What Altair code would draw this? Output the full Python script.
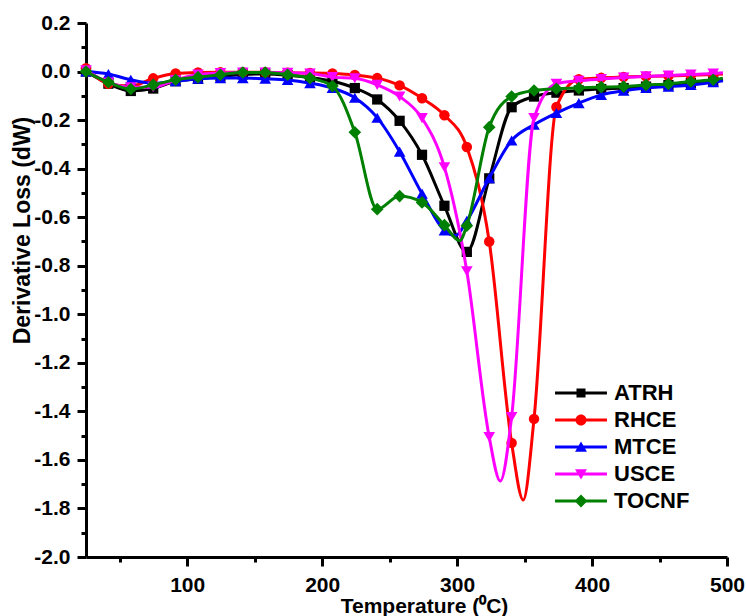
import altair as alt
import pandas as pd

# ---------------- data ----------------
names = ["ATRH", "RHCE", "MTCE", "USCE", "TOCNF"]
colors = ["#000000", "#FF0000", "#0000FF", "#FF00FF", "#008000"]
shapes = ["square", "circle", "triangle-up", "triangle-down", "diamond"]
msizes = [105, 110, 135, 135, 160]

temps = [25.0, 41.6, 58.2, 74.8, 91.4, 108.0, 124.6, 141.2, 157.8, 174.4,
         191.0, 207.6, 224.2, 240.8, 257.4, 274.0, 290.6, 307.2, 323.8, 340.4,
         357.0, 373.6, 390.2, 406.8, 423.4, 440.0, 456.6, 473.2, 489.8]

atrh = [0.0, -0.05, -0.08, -0.07, -0.04, -0.03, -0.02, -0.012, -0.01, -0.015,
        -0.025, -0.04, -0.068, -0.115, -0.203, -0.343, -0.553, -0.743, -0.44, -0.147,
        -0.103, -0.087, -0.078, -0.072, -0.068, -0.062, -0.056, -0.047, -0.04]
rhce = [0.014, -0.05, -0.06, -0.028, -0.008, -0.004, -0.003, -0.003, -0.003, -0.005,
        -0.006, -0.008, -0.014, -0.027, -0.057, -0.11, -0.18, -0.311, -0.70, -1.53,
        -1.431, -0.146, -0.032, -0.026, -0.022, -0.02, -0.018, -0.015, -0.012]
mtce = [0.0, -0.01, -0.034, -0.048, -0.04, -0.03, -0.027, -0.027, -0.03, -0.035,
        -0.048, -0.068, -0.108, -0.19, -0.33, -0.503, -0.655, -0.615, -0.439, -0.284,
        -0.219, -0.171, -0.13, -0.096, -0.079, -0.068, -0.062, -0.055, -0.044]
usce = [0.005, -0.045, -0.065, -0.065, -0.035, -0.012, -0.006, -0.004, -0.004, -0.005,
        -0.008, -0.023, -0.028, -0.055, -0.103, -0.192, -0.394, -0.823, -1.506, -1.423,
        -0.192, -0.05, -0.038, -0.031, -0.025, -0.02, -0.016, -0.012, -0.008]
tocnf = [0.0, -0.044, -0.072, -0.055, -0.034, -0.023, -0.013, -0.004, -0.004, -0.013,
         -0.027, -0.06, -0.25, -0.567, -0.513, -0.539, -0.633, -0.635, -0.229, -0.103,
         -0.078, -0.071, -0.068, -0.064, -0.062, -0.055, -0.051, -0.041, -0.034]

# curve points between symbols (peaks / line end)
atrh_xt, atrh_xv = [497.0], [-0.033]
rhce_xt, rhce_xv = [349.0, 497.0], [-1.765, -0.01]
mtce_xt, mtce_xv = [299.0, 497.0], [-0.675, -0.038]
usce_xt, usce_xv = [332.0, 497.0], [-1.687, -0.005]
tocnf_xt, tocnf_xv = [302.0, 497.0], [-0.697, -0.027]

x_ticks = [50, 100, 150, 200, 250, 300, 350, 400, 450, 500]
y_ticks = [-2.0, -1.9, -1.8, -1.7, -1.6, -1.5, -1.4, -1.3, -1.2, -1.1, -1.0,
           -0.9, -0.8, -0.7, -0.6, -0.5, -0.4, -0.3, -0.2, -0.1, 0.0, 0.1, 0.2]

series_vals = [atrh, rhce, mtce, usce, tocnf]
series_extra = [(atrh_xt, atrh_xv), (rhce_xt, rhce_xv), (mtce_xt, mtce_xv),
                (usce_xt, usce_xv), (tocnf_xt, tocnf_xv)]

rows = []
for name, vals, (et, ev) in zip(names, series_vals, series_extra):
    for t, v in zip(temps, vals):
        rows.append({"series": name, "T": t, "v": v, "marker": True})
    for t, v in zip(et, ev):
        rows.append({"series": name, "T": t, "v": v, "marker": False})
df = pd.DataFrame(rows)

# ---------------- styling ----------------
FONT = "Liberation Sans"

x_enc = alt.X(
    "T:Q",
    scale=alt.Scale(domain=[25, 500], nice=False, zero=False),
    axis=alt.Axis(
        values=x_ticks,
        labelExpr="datum.value % 100 === 0 ? datum.label : ''",
        title="Temperature (\u2070C)",
        titleFont=FONT, titleFontSize=21, titleFontWeight="bold", titleColor="black",
        titleX=338, titleY=55, titleAlign="center", titleBaseline="alphabetic",
        labelFont=FONT, labelFontSize=21, labelFontWeight="bold", labelColor="black",
        labelPadding=8, labelFlush=False, labelOverlap=False,
        tickSize={"condition": {"test": "datum.value % 100 === 0", "value": 9}, "value": 5},
        tickWidth=3, tickColor="black",
        domainColor="black", domainWidth=3, grid=False,
    ),
)

y_enc = alt.Y(
    "v:Q",
    scale=alt.Scale(domain=[-2.0, 0.2], nice=False, zero=False),
    axis=alt.Axis(
        values=y_ticks,
        labelExpr="abs(round(datum.value*10)) % 2 === 0 ? (datum.value < -0.001 ? '-' : '') + format(abs(datum.value), '.1f') : ''",
        title="Derivative Loss (dW)",
        titleFont=FONT, titleFontSize=23, titleFontWeight="bold", titleColor="black",
        titleX=-64, titleY=207, titleAngle=270, titleAlign="center", titleBaseline="middle",
        labelFont=FONT, labelFontSize=21, labelFontWeight="bold", labelColor="black",
        labelPadding=7, labelOverlap=False,
        tickSize={"condition": {"test": "abs(round(datum.value*10)) % 2 === 0", "value": 9}, "value": 5},
        tickWidth=3, tickColor="black",
        domainColor="black", domainWidth=3, grid=False,
    ),
)

base = alt.Chart(df)

layers = []
for name, col, shp, ms in zip(names, colors, shapes, msizes):
    line = base.transform_filter(alt.datum.series == name).mark_line(
        color=col, strokeWidth=3, interpolate="monotone"
    ).encode(x=x_enc, y=y_enc)
    pts = base.transform_filter(
        (alt.datum.series == name) & (alt.datum.marker == True)
    ).mark_point(shape=shp, filled=True, size=ms, color=col, opacity=1).encode(x=x_enc, y=y_enc)
    layers += [line, pts]

# legend symbols: line with the marker in the middle
# (symbol size 484 -> path unit = 11 px; line spans 52 px)
bar = "M-2.36,-0.136H2.36V0.136H-2.36Z "
legend_paths = [
    bar + "M-0.41,-0.41H0.41V0.41H-0.41Z",
    bar + "M0.5,0A0.5,0.5 0 1,1 -0.5,0A0.5,0.5 0 1,1 0.5,0Z",
    bar + "M0,-0.5L0.54,0.43L-0.54,0.43Z",
    bar + "M-0.54,-0.43L0.54,-0.43L0,0.5Z",
    bar + "M0,-0.59L0.59,0L0,0.59L-0.59,0Z",
]

leg = alt.Legend(
    title=None, orient="none", legendX=484, legendY=359, padding=0,
    labelFont=FONT, labelFontSize=22, labelFontWeight="bold", labelColor="black",
    symbolSize=484, symbolStrokeWidth=0, symbolOpacity=1, labelOffset=22, rowPadding=5,
)

legend_layer = base.transform_filter("false").mark_point(filled=True, opacity=1).encode(
    x=x_enc, y=y_enc,
    color=alt.Color("series:N", scale=alt.Scale(domain=names, range=colors), legend=leg),
    shape=alt.Shape("series:N", scale=alt.Scale(domain=names, range=legend_paths), legend=leg),
)
layers.append(legend_layer)

chart = alt.layer(*layers).properties(
    width=641, height=534,
    padding={"left": 86, "top": 23, "right": 19, "bottom": 59},
    autosize=alt.AutoSizeParams(type="none"),
    background="white",
).configure_view(stroke=None)

chart.save("out.html", embed_options={"renderer": "svg", "actions": False})
